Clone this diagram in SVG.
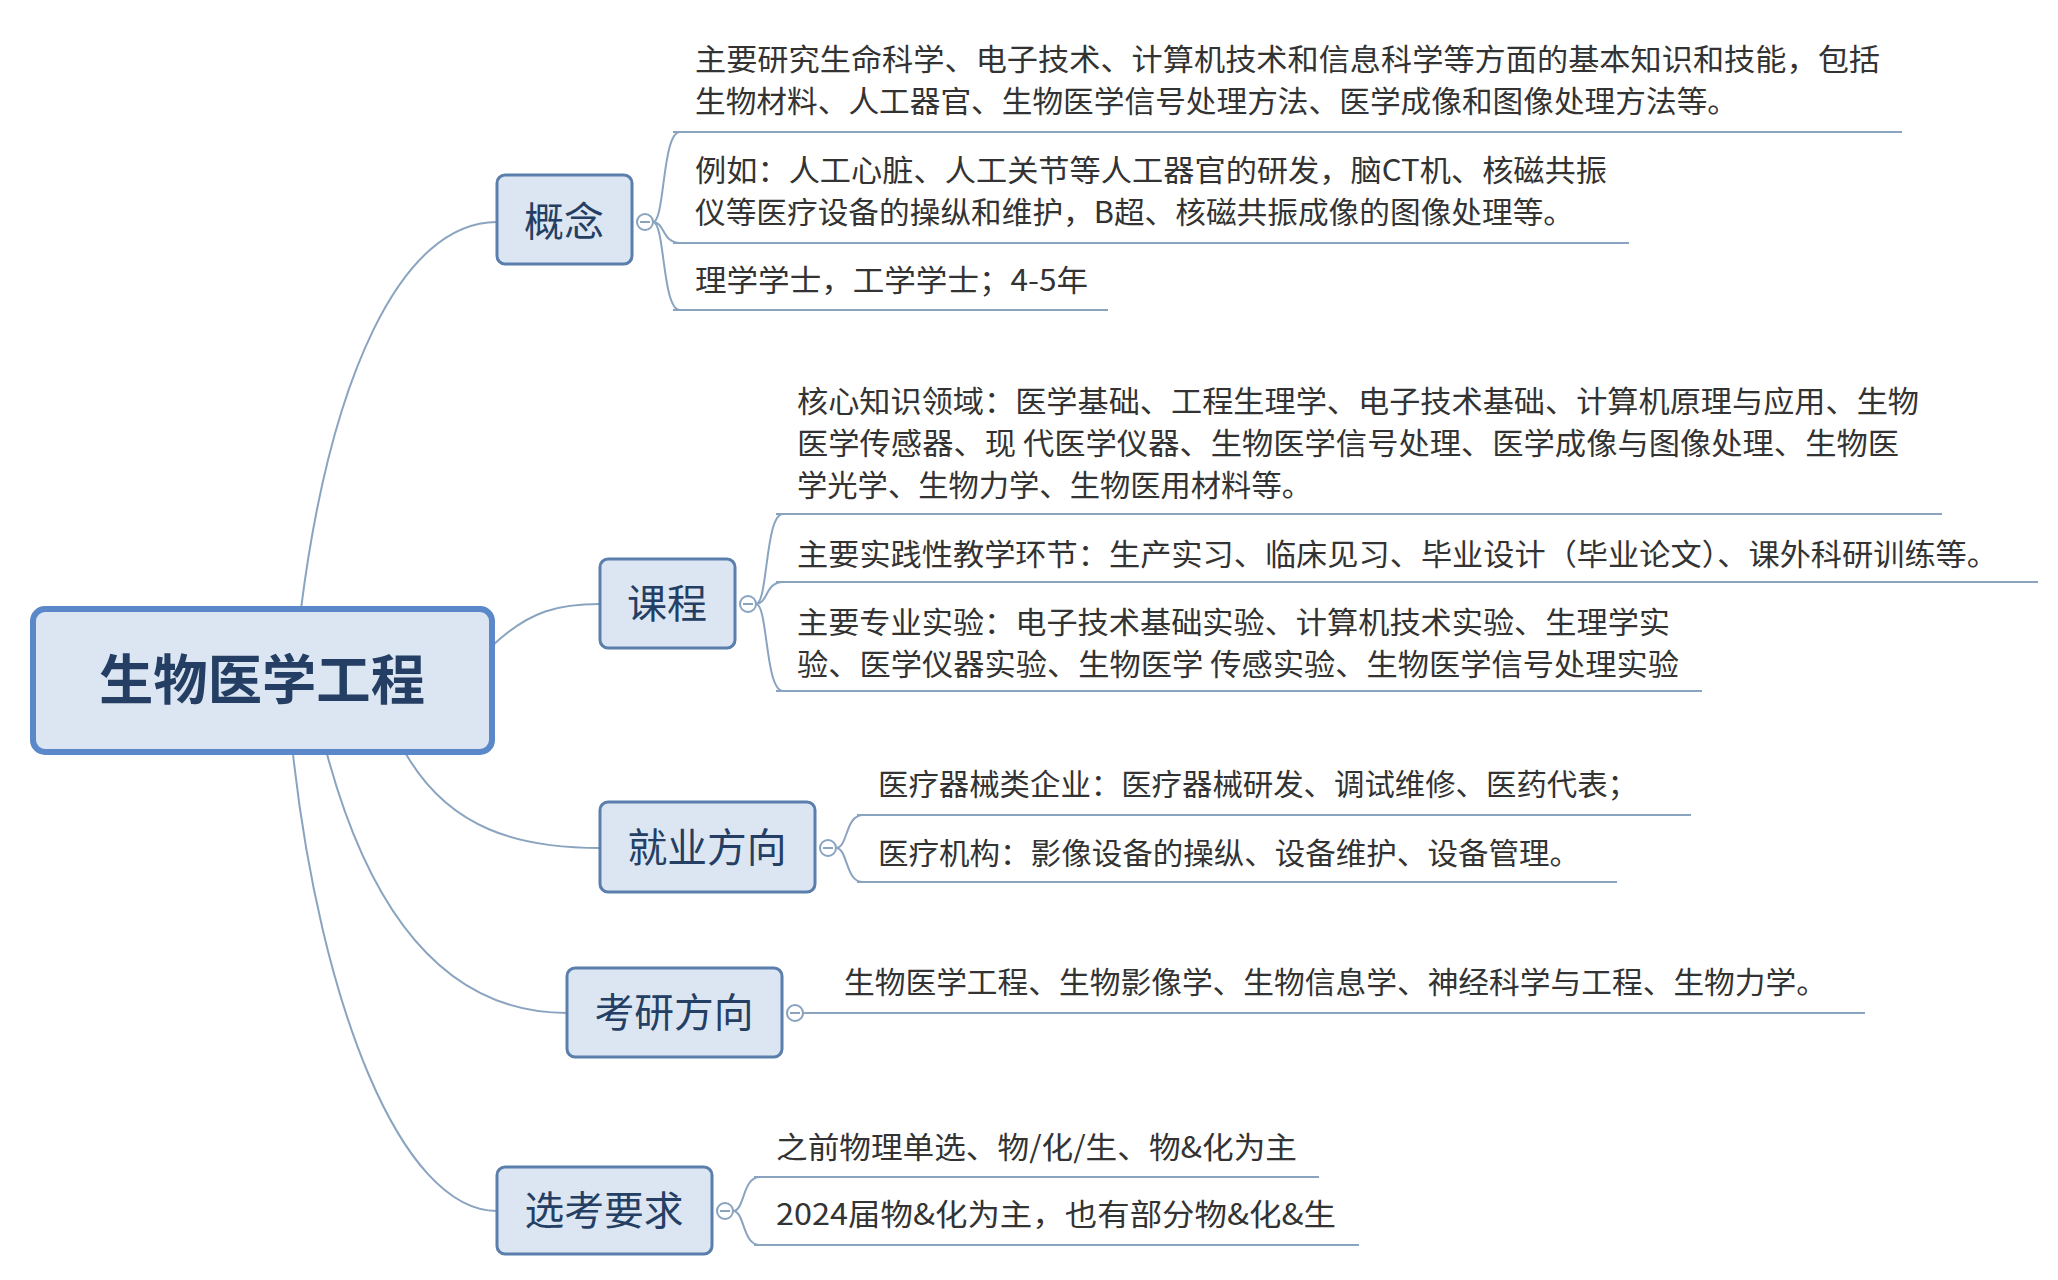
<svg xmlns="http://www.w3.org/2000/svg" width="2058" height="1280" viewBox="0 0 2058 1280">
<style>
.bg{fill:#fff}
.node rect{fill:#dce6f2;stroke:#5b7fad;stroke-width:3}
.node text{font-family:"Noto Sans CJK SC",sans-serif;fill:#243f63;font-size:40px;text-anchor:middle}
.t{font-family:"Noto Sans CJK SC",sans-serif;fill:#333;font-size:30px}
.ul{stroke:#4f78a8;stroke-width:4;fill:none}
.con path{fill:none;stroke:#8aa4c0;stroke-width:2}
.cir{fill:#fff;stroke:#8aa4c0;stroke-width:2}
</style>
<rect class="bg" width="2058" height="1280"/>
<g id="connectors" class="con">
<path d="M301,609 C330,380 400,222 497,222"/>
<path d="M492,646 C530,610 560,604 600,604"/>
<path d="M406,754 C450,830 520,848 600,848"/>
<path d="M327,754 C380,950 470,1013 567,1013"/>
<path d="M293,754 C320,1000 400,1211 497,1211"/>
<path d="M653,222 C665,222 662,132 680,132 M653,222 C665,222 662,243 680,243 M653,222 C665,222 662,310 680,310"/>
<path d="M756,604 C768,604 765,514 783,514 M756,604 C768,604 765,582 783,582 M756,604 C768,604 765,691 783,691"/>
<path d="M836,848 C848,848 845,815 863,815 M836,848 C848,848 845,882 863,882"/>
<path d="M803,1013 L820,1013"/>
<path d="M733,1211 C745,1211 742,1177 760,1177 M733,1211 C745,1211 742,1245 760,1245"/>
<circle class="cir" cx="645" cy="222" r="8"/><path d="M640,222h10"/>
<circle class="cir" cx="748" cy="604" r="8"/><path d="M743,604h10"/>
<circle class="cir" cx="828" cy="848" r="8"/><path d="M823,848h10"/>
<circle class="cir" cx="795" cy="1013" r="8"/><path d="M790,1013h10"/>
<circle class="cir" cx="725" cy="1211" r="8"/><path d="M720,1211h10"/>
<path class="ul" d="M673,132H1902 M673,243H1629 M673,310H1108"/>
<path class="ul" d="M776,514H1942 M776,582H2038 M776,691H1702"/>
<path class="ul" d="M857,815H1691 M857,882H1617"/>
<path class="ul" d="M818,1013H1865"/>
<path class="ul" d="M754,1177H1319 M754,1245H1359"/>
</g>
<g id="root" class="node"><rect x="33" y="609" width="459" height="143" rx="12" style="stroke:#5a88c8;stroke-width:6"/><text x="262" y="700" style="font-size:54px;font-weight:bold" textLength="326" lengthAdjust="spacingAndGlyphs">生物医学工程</text></g>
<g id="n1" class="node"><rect x="497" y="175" width="135" height="89" rx="8"/><text x="564" y="236">概念</text></g>
<g id="n2" class="node"><rect x="600" y="559" width="135" height="89" rx="8"/><text x="667" y="618">课程</text></g>
<g id="n3" class="node"><rect x="600" y="802" width="215" height="90" rx="8"/><text x="707" y="862" textLength="159" lengthAdjust="spacingAndGlyphs">就业方向</text></g>
<g id="n4" class="node"><rect x="567" y="968" width="215" height="89" rx="8"/><text x="674" y="1027" textLength="159" lengthAdjust="spacingAndGlyphs">考研方向</text></g>
<g id="n5" class="node"><rect x="497" y="1167" width="215" height="87" rx="8"/><text x="604" y="1225" textLength="159" lengthAdjust="spacingAndGlyphs">选考要求</text></g>
<g id="c1" class="t"><text x="695" y="70" textLength="1185" lengthAdjust="spacingAndGlyphs">主要研究生命科学、电子技术、计算机技术和信息科学等方面的基本知识和技能，包括</text><text x="695" y="112" textLength="1043" lengthAdjust="spacingAndGlyphs">生物材料、人工器官、生物医学信号处理方法、医学成像和图像处理方法等。</text></g>
<g id="c2" class="t"><text x="695" y="181" textLength="912" lengthAdjust="spacingAndGlyphs">例如：人工心脏、人工关节等人工器官的研发，脑CT机、核磁共振</text><text x="695" y="223" textLength="879" lengthAdjust="spacingAndGlyphs">仪等医疗设备的操纵和维护，B超、核磁共振成像的图像处理等。</text></g>
<g id="c3" class="t"><text x="695" y="291" textLength="393" lengthAdjust="spacingAndGlyphs">理学学士，工学学士；4-5年</text></g>
<g id="c4" class="t"><text x="797" y="412" textLength="1122" lengthAdjust="spacingAndGlyphs">核心知识领域：医学基础、工程生理学、电子技术基础、计算机原理与应用、生物</text><text x="797" y="454" textLength="1102" lengthAdjust="spacingAndGlyphs">医学传感器、现 代医学仪器、生物医学信号处理、医学成像与图像处理、生物医</text><text x="797" y="496" textLength="515" lengthAdjust="spacingAndGlyphs">学光学、生物力学、生物医用材料等。</text></g>
<g id="c5" class="t"><text x="797" y="565" textLength="1201" lengthAdjust="spacingAndGlyphs">主要实践性教学环节：生产实习、临床见习、毕业设计（毕业论文）、课外科研训练等。</text></g>
<g id="c6" class="t"><text x="797" y="633" textLength="873" lengthAdjust="spacingAndGlyphs">主要专业实验：电子技术基础实验、计算机技术实验、生理学实</text><text x="797" y="675" textLength="882" lengthAdjust="spacingAndGlyphs">验、医学仪器实验、生物医学 传感实验、生物医学信号处理实验</text></g>
<g id="c7" class="t"><text x="878" y="795" textLength="760" lengthAdjust="spacingAndGlyphs">医疗器械类企业：医疗器械研发、调试维修、医药代表；</text></g>
<g id="c8" class="t"><text x="878" y="864" textLength="702" lengthAdjust="spacingAndGlyphs">医疗机构：影像设备的操纵、设备维护、设备管理。</text></g>
<g id="c9" class="t"><text x="844" y="993" textLength="983" lengthAdjust="spacingAndGlyphs">生物医学工程、生物影像学、生物信息学、神经科学与工程、生物力学。</text></g>
<g id="c10" class="t"><text x="776" y="1158" textLength="521" lengthAdjust="spacingAndGlyphs">之前物理单选、物/化/生、物&amp;化为主</text></g>
<g id="c11" class="t"><text x="776" y="1225" textLength="560" lengthAdjust="spacingAndGlyphs">2024届物&amp;化为主，也有部分物&amp;化&amp;生</text></g>
</svg>
